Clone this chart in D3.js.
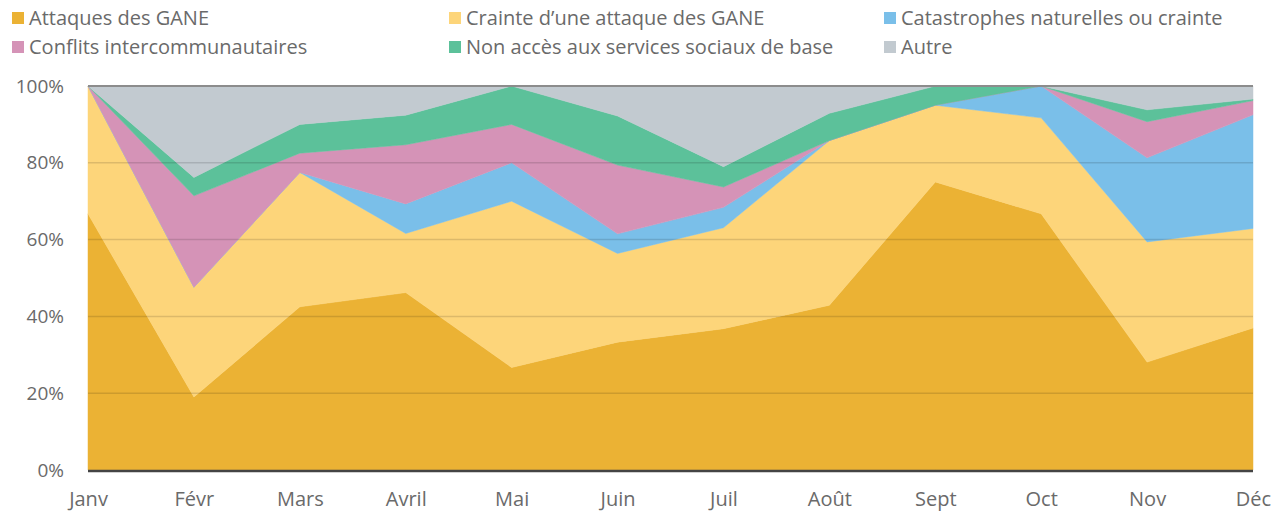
<!DOCTYPE html>
<html>
<head>
<meta charset="utf-8">
<script src="https://cdn.jsdelivr.net/npm/d3@7"></script>
<style>
  body { margin: 0; background: #fff; }
  text { font-family: "Open Sans", "Noto Sans", sans-serif; fill: #6a6a6a; }
</style>
</head>
<body>
<script>
// Data (percent of displacement causes per month)
const months = ["Janv", "Févr", "Mars", "Avril", "Mai", "Juin", "Juil", "Août", "Sept", "Oct", "Nov", "Déc"];
const attaques     = [66.7, 19.0, 42.5, 46.2, 26.7, 33.3, 36.8, 42.9, 75.0, 66.7, 28.1, 37.0];
const crainte      = [33.3, 28.6, 35.0, 15.4, 43.3, 23.1, 26.3, 42.9, 20.0, 25.0, 31.3, 25.9];
const catastrophes = [0, 0, 0, 7.7, 10.0, 5.1, 5.3, 0, 0, 8.3, 21.9, 29.6];
const conflits     = [0, 23.8, 5.0, 15.4, 10.0, 17.9, 5.3, 0, 0, 0, 9.4, 3.7];
const nonAcces     = [0, 4.8, 7.5, 7.7, 10.0, 12.8, 5.3, 7.1, 5.0, 0, 3.1, 0.4];
const autre        = [0, 23.8, 10.0, 7.7, 0, 7.7, 21.0, 7.1, 0, 0, 6.3, 3.4];
const yTicks = [0, 20, 40, 60, 80, 100];

const series = [
  { key: "Attaques des GANE", values: attaques, color: "#ebb234" },
  { key: "Crainte d\u2019une attaque des GANE", values: crainte, color: "#fdd57a" },
  { key: "Catastrophes naturelles ou crainte", values: catastrophes, color: "#7abfe9" },
  { key: "Conflits intercommunautaires", values: conflits, color: "#d593b7" },
  { key: "Non accès aux services sociaux de base", values: nonAcces, color: "#5cc19a" },
  { key: "Autre", values: autre, color: "#c2cad0" }
];

const W = 1281, H = 512;
const margin = { top: 86, right: 28, bottom: 42, left: 88 };
const width = W - margin.left - margin.right;
const height = H - margin.top - margin.bottom;

const svg = d3.select("body").append("svg")
    .attr("width", W)
    .attr("height", H);

// Build rows for the stack
const rows = months.map((m, i) => {
  const r = { month: m };
  series.forEach(s => r[s.key] = s.values[i]);
  return r;
});
const stacked = d3.stack().keys(series.map(s => s.key))(rows);

const x = d3.scalePoint().domain(months).range([0, width]);
const y = d3.scaleLinear().domain([0, 100]).range([height, 0]);

const g = svg.append("g").attr("transform", `translate(${margin.left},${margin.top})`);

const area = d3.area()
    .x(d => x(d.data.month))
    .y0(d => y(d[0]))
    .y1(d => y(d[1]));

g.selectAll("path.layer")
  .data(stacked)
  .join("path")
    .attr("class", "layer")
    .attr("fill", (d, i) => series[i].color)
    .attr("stroke", (d, i) => series[i].color)
    .attr("stroke-width", 0.5)
    .attr("d", area);

// Gridlines over the areas
g.selectAll("line.grid")
  .data(yTicks.filter(t => t > 0 && t < 100))
  .join("line")
    .attr("class", "grid")
    .attr("x1", 0).attr("x2", width)
    .attr("y1", d => y(d)).attr("y2", d => y(d))
    .attr("stroke", "rgba(0,0,0,0.13)")
    .attr("stroke-width", 1.5);

g.append("line")
    .attr("x1", 0).attr("x2", width)
    .attr("y1", y(100)).attr("y2", y(100))
    .attr("stroke", "#8c8c8c")
    .attr("stroke-width", 2);

g.append("line")
    .attr("x1", 0).attr("x2", width)
    .attr("y1", y(0) + 1).attr("y2", y(0) + 1)
    .attr("stroke", "#444")
    .attr("stroke-width", 2.5);

// Y axis
const yAxis = g.append("g")
    .attr("transform", "translate(-21,0)")
    .call(d3.axisLeft(y).tickValues(yTicks).tickFormat(d => d + "%").tickSize(0));
yAxis.select(".domain").remove();
yAxis.selectAll("text").style("font-size", "19px").attr("fill", "#6a6a6a");

// X axis
const xAxis = g.append("g")
    .attr("transform", `translate(0,${height + 19})`)
    .call(d3.axisBottom(x).tickSize(0));
xAxis.select(".domain").remove();
xAxis.selectAll("text").style("font-size", "20px").attr("fill", "#6a6a6a");

// Legend
const legendPos = [[12, 18], [449, 18], [884, 18], [12, 47], [449, 47], [884, 47]];
const legend = svg.append("g");
series.forEach((s, i) => {
  const [lx, ly] = legendPos[i];
  legend.append("rect")
      .attr("x", lx).attr("y", ly - 6)
      .attr("width", 12).attr("height", 12)
      .attr("fill", s.color);
  legend.append("text")
      .attr("x", lx + 17).attr("y", ly)
      .attr("dy", "0.35em")
      .style("font-size", "20px")
      .text(s.key);
});
</script>
</body>
</html>
